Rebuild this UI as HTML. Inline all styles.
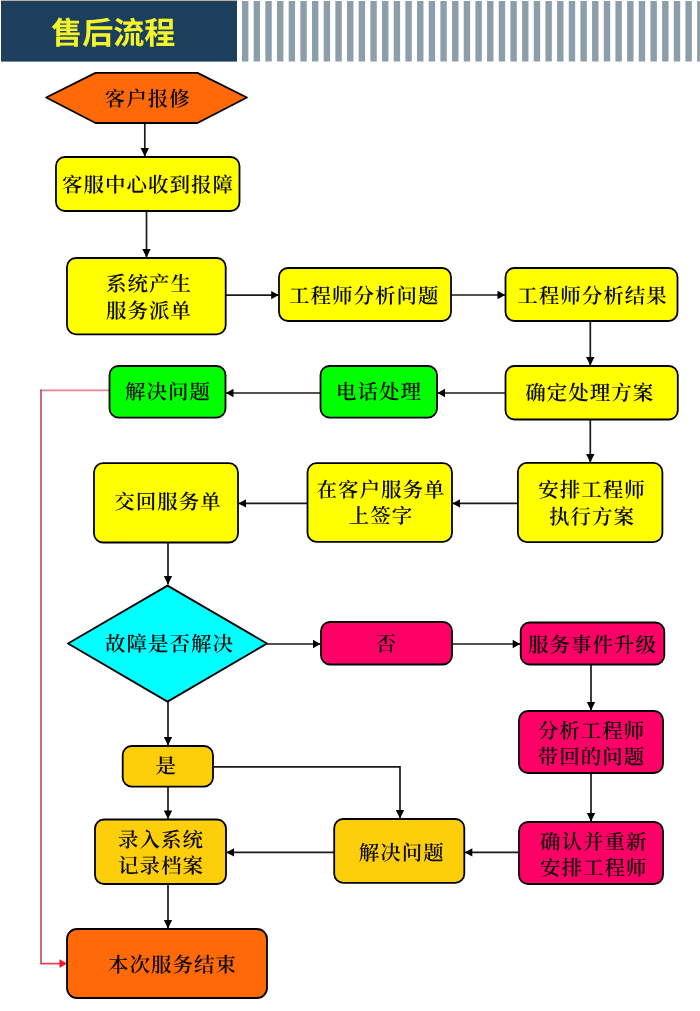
<!DOCTYPE html>
<html lang="zh-CN">
<head>
<meta charset="utf-8">
<title>售后流程</title>
<style>
html,body{margin:0;padding:0;background:#fff;}
body{width:700px;height:1011px;overflow:hidden;font-family:"Liberation Serif", "Noto Serif CJK SC", serif;}
svg{display:block;}
text{text-rendering:geometricPrecision;}
</style>
</head>
<body>
<svg width="700" height="1011" viewBox="0 0 700 1011">
<rect width="700" height="1011" fill="#ffffff"/>
<rect x="1" y="1" width="236" height="60.6" fill="#1c3f5d"/>
<rect x="1" y="0.6" width="236" height="1" fill="#3f4348"/>
<g fill="#8c9ea9"><rect x="242.00" y="1" width="6.4" height="60.5"/><rect x="253.67" y="1" width="6.4" height="60.5"/><rect x="265.34" y="1" width="6.4" height="60.5"/><rect x="277.01" y="1" width="6.4" height="60.5"/><rect x="288.68" y="1" width="6.4" height="60.5"/><rect x="300.35" y="1" width="6.4" height="60.5"/><rect x="312.02" y="1" width="6.4" height="60.5"/><rect x="323.69" y="1" width="6.4" height="60.5"/><rect x="335.36" y="1" width="6.4" height="60.5"/><rect x="347.03" y="1" width="6.4" height="60.5"/><rect x="358.70" y="1" width="6.4" height="60.5"/><rect x="370.37" y="1" width="6.4" height="60.5"/><rect x="382.04" y="1" width="6.4" height="60.5"/><rect x="393.71" y="1" width="6.4" height="60.5"/><rect x="405.38" y="1" width="6.4" height="60.5"/><rect x="417.05" y="1" width="6.4" height="60.5"/><rect x="428.72" y="1" width="6.4" height="60.5"/><rect x="440.39" y="1" width="6.4" height="60.5"/><rect x="452.06" y="1" width="6.4" height="60.5"/><rect x="463.73" y="1" width="6.4" height="60.5"/><rect x="475.40" y="1" width="6.4" height="60.5"/><rect x="487.07" y="1" width="6.4" height="60.5"/><rect x="498.74" y="1" width="6.4" height="60.5"/><rect x="510.41" y="1" width="6.4" height="60.5"/><rect x="522.08" y="1" width="6.4" height="60.5"/><rect x="533.75" y="1" width="6.4" height="60.5"/><rect x="545.42" y="1" width="6.4" height="60.5"/><rect x="557.09" y="1" width="6.4" height="60.5"/><rect x="568.76" y="1" width="6.4" height="60.5"/><rect x="580.43" y="1" width="6.4" height="60.5"/><rect x="592.10" y="1" width="6.4" height="60.5"/><rect x="603.77" y="1" width="6.4" height="60.5"/><rect x="615.44" y="1" width="6.4" height="60.5"/><rect x="627.11" y="1" width="6.4" height="60.5"/><rect x="638.78" y="1" width="6.4" height="60.5"/><rect x="650.45" y="1" width="6.4" height="60.5"/><rect x="662.12" y="1" width="6.4" height="60.5"/><rect x="673.79" y="1" width="6.4" height="60.5"/><rect x="685.46" y="1" width="6.4" height="60.5"/><rect x="697.13" y="1" width="6.4" height="60.5"/></g>
<text x="113.2" y="44" font-family='"Liberation Sans", "Noto Sans CJK SC", sans-serif' font-weight="700" font-size="31" fill="#f4f42e" text-anchor="middle" style="will-change:transform">售后流程</text>
<g>
<path d="M144.8,123 L144.8,156.5" fill="none" stroke="#1a1a1a" stroke-width="1.7"/><polygon points="144.8,156.5 140.6,148.0 149.0,148.0" fill="#000"/>
<path d="M146.5,211 L146.5,257.5" fill="none" stroke="#1a1a1a" stroke-width="1.7"/><polygon points="146.5,257.5 142.3,249.0 150.7,249.0" fill="#000"/>
<path d="M225.7,295.1 L278.7,295.1" fill="none" stroke="#1a1a1a" stroke-width="1.7"/><polygon points="278.7,295.1 271.2,299.3 271.2,290.9" fill="#000"/>
<path d="M451,295 L505,295" fill="none" stroke="#1a1a1a" stroke-width="1.7"/><polygon points="505.0,295.0 497.5,299.2 497.5,290.8" fill="#000"/>
<path d="M590.3,321 L590.3,365.5" fill="none" stroke="#1a1a1a" stroke-width="1.7"/><polygon points="590.3,365.5 586.1,357.0 594.5,357.0" fill="#000"/>
<path d="M505,393 L437.5,393" fill="none" stroke="#1a1a1a" stroke-width="1.7"/><polygon points="437.5,393.0 445.0,388.8 445.0,397.2" fill="#000"/>
<path d="M320,393 L226,393" fill="none" stroke="#1a1a1a" stroke-width="1.7"/><polygon points="226.0,393.0 233.5,388.8 233.5,397.2" fill="#000"/>
<path d="M590.3,419 L590.3,462.4" fill="none" stroke="#1a1a1a" stroke-width="1.7"/><polygon points="590.3,462.4 586.1,453.9 594.5,453.9" fill="#000"/>
<path d="M517,503.4 L452.5,503.4" fill="none" stroke="#1a1a1a" stroke-width="1.7"/><polygon points="452.5,503.4 460.0,499.2 460.0,507.6" fill="#000"/>
<path d="M307,503.4 L238.5,503.4" fill="none" stroke="#1a1a1a" stroke-width="1.7"/><polygon points="238.5,503.4 246.0,499.2 246.0,507.6" fill="#000"/>
<path d="M168,542 L168,584.5" fill="none" stroke="#1a1a1a" stroke-width="1.7"/><polygon points="168.0,584.5 163.8,576.0 172.2,576.0" fill="#000"/>
<path d="M267,644 L320.5,644" fill="none" stroke="#1a1a1a" stroke-width="1.7"/><polygon points="320.5,644.0 313.0,648.2 313.0,639.8" fill="#000"/>
<path d="M452,644 L520.2,644" fill="none" stroke="#1a1a1a" stroke-width="1.7"/><polygon points="520.2,644.0 512.7,648.2 512.7,639.8" fill="#000"/>
<path d="M591,664 L591,710.5" fill="none" stroke="#1a1a1a" stroke-width="1.7"/><polygon points="591.0,710.5 586.8,702.0 595.2,702.0" fill="#000"/>
<path d="M591,773 L591,821.5" fill="none" stroke="#1a1a1a" stroke-width="1.7"/><polygon points="591.0,821.5 586.8,813.0 595.2,813.0" fill="#000"/>
<path d="M519,852.4 L464.8,852.4" fill="none" stroke="#1a1a1a" stroke-width="1.7"/><polygon points="464.8,852.4 472.3,848.2 472.3,856.6" fill="#000"/>
<path d="M334,852.4 L226.5,852.4" fill="none" stroke="#1a1a1a" stroke-width="1.7"/><polygon points="226.5,852.4 234.0,848.2 234.0,856.6" fill="#000"/>
<path d="M168,702 L168,745.5" fill="none" stroke="#1a1a1a" stroke-width="1.7"/><polygon points="168.0,745.5 163.8,737.0 172.2,737.0" fill="#000"/>
<path d="M168,786 L168,819" fill="none" stroke="#1a1a1a" stroke-width="1.7"/><polygon points="168.0,819.0 163.8,810.5 172.2,810.5" fill="#000"/>
<path d="M168,884 L168,928.5" fill="none" stroke="#1a1a1a" stroke-width="1.7"/><polygon points="168.0,928.5 163.8,920.0 172.2,920.0" fill="#000"/>
<path d="M213,766.8 L400,766.8 L400,818.5" fill="none" stroke="#1a1a1a" stroke-width="1.7"/><polygon points="400.0,818.5 395.8,810.0 404.2,810.0" fill="#000"/>
</g>
<path d="M109,390.3 L40.2,390.3" fill="none" stroke="#e4868f" stroke-width="1.8"/>
<path d="M41,389.4 L41,964.4" fill="none" stroke="#c4525e" stroke-width="1.7"/>
<path d="M41,963.6 L60,963.6" fill="none" stroke="#d84550" stroke-width="1.7"/>
<polygon points="67,963.6 59.5,959.2 59.5,968" fill="#f21525"/>
<g stroke="#000" stroke-width="1.8" stroke-linejoin="round">
<polygon points="46.2,97.5 95.5,72.9 197.5,72.9 246.9,97.5 197.5,123 95.5,123" fill="#ff6907"/>
<polygon points="68,643.5 167.5,585.6 267,643.5 167.5,701.6" fill="#00ffff"/>
<rect x="56" y="157" width="183.5" height="54.0" rx="9" ry="9" fill="#ffff00"/>
<rect x="67" y="258" width="158.7" height="76.3" rx="9" ry="9" fill="#ffff00"/>
<rect x="279" y="268" width="172.0" height="53.0" rx="9" ry="9" fill="#ffff00"/>
<rect x="505.5" y="268" width="172.0" height="53.0" rx="9" ry="9" fill="#ffff00"/>
<rect x="109.5" y="366" width="116.0" height="51.6" rx="9" ry="9" fill="#00ff00"/>
<rect x="320.5" y="366" width="116.5" height="51.6" rx="9" ry="9" fill="#00ff00"/>
<rect x="505.5" y="366" width="172.3" height="53.5" rx="9" ry="9" fill="#ffff00"/>
<rect x="94" y="463.2" width="144.0" height="79.3" rx="9" ry="9" fill="#ffff00"/>
<rect x="307.5" y="463.2" width="144.5" height="78.6" rx="9" ry="9" fill="#ffff00"/>
<rect x="517.9" y="462.9" width="144.5" height="79.2" rx="9" ry="9" fill="#ffff00"/>
<rect x="321" y="622" width="131.0" height="42.5" rx="9" ry="9" fill="#ff0066"/>
<rect x="520.7" y="622.5" width="143.6" height="42.0" rx="9" ry="9" fill="#ff0066"/>
<rect x="122.7" y="746" width="90.3" height="40.6" rx="9" ry="9" fill="#fdcf0a"/>
<rect x="519" y="711" width="144.0" height="62.0" rx="9" ry="9" fill="#ff0066"/>
<rect x="95" y="819.5" width="131.0" height="64.5" rx="9" ry="9" fill="#fdcf0a"/>
<rect x="334.2" y="819" width="130.1" height="63.8" rx="9" ry="9" fill="#fdcf0a"/>
<rect x="519" y="822" width="144.0" height="62.0" rx="9" ry="9" fill="#ff0066"/>
<rect x="67" y="929" width="200.0" height="69.0" rx="10" ry="10" fill="#ff6907"/>
</g>
<g font-family='"Liberation Serif", "Noto Serif CJK SC", serif' font-size="20.5" font-weight="600" fill="#0a0a0a" text-anchor="middle" letter-spacing="1.0" style="will-change:transform">
<text x="147.8" y="105.6">客户报修</text>
<text x="169.5" y="651.2">故障是否解决</text>
<text x="148.0" y="191.6">客服中心收到报障</text>
<text x="149.1" y="291.2">系统产生</text><text x="149.1" y="317.9">服务派单</text>
<text x="364.3" y="302.8">工程师分析问题</text>
<text x="592.4" y="302.8">工程师分析结果</text>
<text x="168.0" y="399.3">解决问题</text>
<text x="379.0" y="398.9">电话处理</text>
<text x="589.7" y="400.3">确定处理方案</text>
<text x="167.9" y="509.3">交回服务单</text>
<text x="380.9" y="496.5">在客户服务单</text><text x="380.9" y="523.2">上签字</text>
<text x="592.0" y="497.2">安排工程师</text><text x="592.0" y="523.9">执行方案</text>
<text x="386.3" y="650.8">否</text>
<text x="592.5" y="651.8">服务事件升级</text>
<text x="166.3" y="773.3">是</text>
<text x="591.5" y="737.5">分析工程师</text><text x="591.5" y="764.2">带回的问题</text>
<text x="161.0" y="846.5">录入系统</text><text x="161.0" y="873.2">记录档案</text>
<text x="401.8" y="859.5">解决问题</text>
<text x="593.7" y="848.6">确认并重新</text><text x="593.7" y="875.3">安排工程师</text>
<text x="172.5" y="972.3">本次服务结束</text>
</g>
</svg>
</body>
</html>
